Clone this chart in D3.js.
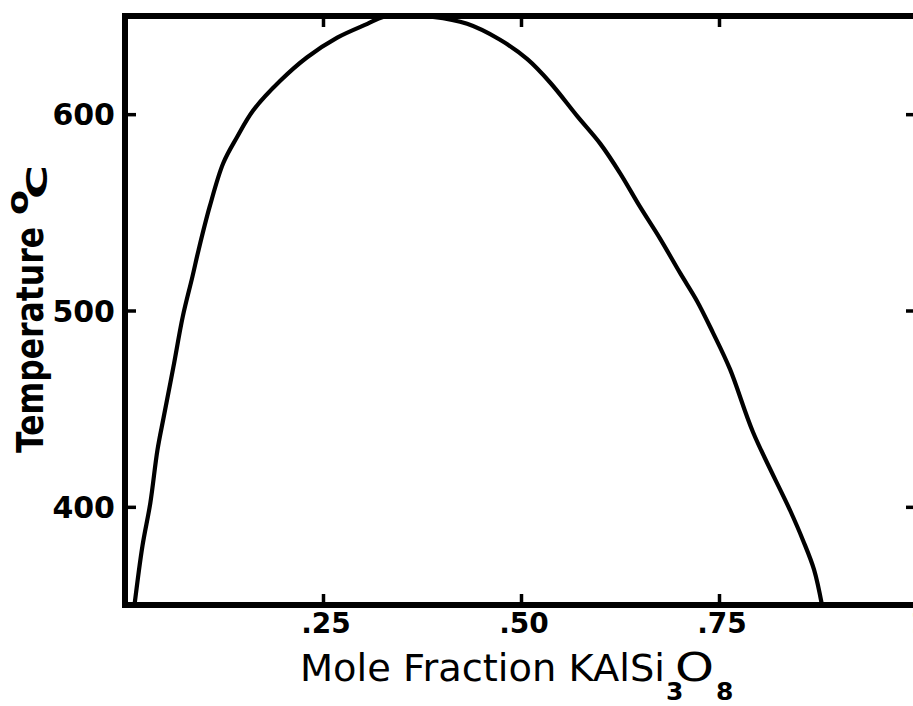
<!DOCTYPE html>
<html>
<head>
<meta charset="utf-8">
<script src="https://cdn.jsdelivr.net/npm/d3@7"></script>
<style>
  html, body { margin: 0; padding: 0; background: #fff; overflow: hidden; }
  svg { display: block; }
  text { fill: #000; }
</style>
</head>
<body>
<svg id="chart" width="913" height="706"></svg>
<script>
// Solvus curve of the alkali feldspar system: temperature vs. mole fraction KAlSi3O8
const moleFraction = [0.012, 0.022, 0.032, 0.041, 0.049, 0.061, 0.073, 0.085, 0.093,
  0.107, 0.124, 0.141, 0.162, 0.196, 0.230, 0.268, 0.306, 0.326, 0.354,
  0.389, 0.432, 0.473, 0.508, 0.537, 0.571, 0.600, 0.625, 0.650, 0.675,
  0.701, 0.722, 0.742, 0.764, 0.793, 0.840, 0.856, 0.870, 0.880];
const temperature = [350, 380, 402, 429, 446, 471, 497, 517, 531,
  553, 575, 588, 602, 617, 629, 639, 646, 649.5, 650,
  649.5, 646, 638, 628, 616, 599, 585, 570, 553, 537,
  519, 505, 489, 470, 438, 398, 383, 368, 350];

const xTicks = [0.25, 0.5, 0.75, 1];
const xTickLabels = [".25", ".50", ".75", "1"];
const yTicks = [400, 500, 600];
const yTickLabels = ["400", "500", "600"];
const xDomain = [0, 1];
const yDomain = [350, 650];

const svg = d3.select("#chart");
const x = d3.scaleLinear().domain(xDomain).range([125, 917]);
const y = d3.scaleLinear().domain(yDomain).range([605, 16]);

const sans = "'DejaVu Sans', 'Liberation Sans', sans-serif";
const tickLen = 11;

// Inward ticks on all four sides
const frame = svg.append("g");
frame.append("g").attr("transform", `translate(0,${y(yDomain[0])})`)
  .call(d3.axisBottom(x).tickValues(xTicks).tickSizeInner(-tickLen).tickSizeOuter(0).tickFormat(""));
frame.append("g").attr("transform", `translate(0,${y(yDomain[1])})`)
  .call(d3.axisTop(x).tickValues(xTicks).tickSizeInner(-tickLen).tickSizeOuter(0).tickFormat(""));
frame.append("g").attr("transform", `translate(${x(xDomain[0])},0)`)
  .call(d3.axisLeft(y).tickValues(yTicks).tickSizeInner(-tickLen).tickSizeOuter(0).tickFormat(""));
frame.append("g").attr("transform", `translate(${x(xDomain[1])},0)`)
  .call(d3.axisRight(y).tickValues(yTicks).tickSizeInner(-tickLen).tickSizeOuter(0).tickFormat(""));
frame.selectAll(".domain").remove();
frame.selectAll(".tick line").attr("stroke", "#000").attr("stroke-width", 3.5);

// Plot frame
svg.append("rect")
  .attr("x", x(xDomain[0])).attr("y", y(yDomain[1]))
  .attr("width", x(xDomain[1]) - x(xDomain[0]))
  .attr("height", y(yDomain[0]) - y(yDomain[1]))
  .attr("fill", "none").attr("stroke", "#000").attr("stroke-width", 6);

// Tick labels
svg.append("g").selectAll("text").data(yTicks).join("text")
  .attr("x", 115).attr("y", d => y(d) + 11)
  .attr("text-anchor", "end")
  .style("font-family", sans).style("font-weight", "bold").style("font-size", "30px")
  .text((d, i) => yTickLabels[i]);

svg.append("g").selectAll("text").data(xTicks).join("text")
  .attr("x", d => x(d) + 3).attr("y", 633)
  .attr("text-anchor", "middle")
  .style("font-family", sans).style("font-weight", "bold").style("font-size", "28px")
  .text((d, i) => xTickLabels[i]);

// Solvus curve
const line = d3.line()
  .x((d, i) => x(moleFraction[i]))
  .y((d, i) => y(temperature[i]))
  .curve(d3.curveCatmullRom.alpha(0.5));
svg.append("path")
  .datum(moleFraction)
  .attr("d", line)
  .attr("fill", "none").attr("stroke", "#000").attr("stroke-width", 4.2)
  .attr("stroke-linejoin", "round").attr("stroke-linecap", "round");

// X axis title: Mole Fraction KAlSi3O8
const xt = svg.append("g")
  .style("font-family", sans);
xt.append("text").attr("x", 300).attr("y", 681)
  .attr("textLength", 365).attr("lengthAdjust", "spacingAndGlyphs")
  .style("font-size", "37px")
  .text("Mole Fraction KAlSi");
xt.append("text").attr("x", 666).attr("y", 700)
  .style("font-size", "25px").style("font-weight", "bold")
  .text("3");
xt.append("text").attr("x", 675).attr("y", 681)
  .attr("textLength", 39).attr("lengthAdjust", "spacingAndGlyphs")
  .style("font-size", "39px")
  .text("O");
xt.append("text").attr("x", 716).attr("y", 700)
  .style("font-size", "25px").style("font-weight", "bold")
  .text("8");

// Y axis title: Temperature °C (rotated)
const yt = svg.append("g")
  .attr("transform", "translate(43,453) rotate(-90)")
  .style("font-family", sans).style("font-weight", "bold");
yt.append("text").attr("x", 0).attr("y", 0)
  .attr("textLength", 226).attr("lengthAdjust", "spacingAndGlyphs")
  .style("font-size", "37px")
  .text("Temperature");
yt.append("text").attr("x", 238).attr("y", -15)
  .attr("textLength", 25).attr("lengthAdjust", "spacingAndGlyphs")
  .style("font-size", "30px")
  .text("o");
yt.append("text").attr("x", 254).attr("y", 4)
  .attr("textLength", 34).attr("lengthAdjust", "spacingAndGlyphs")
  .style("font-size", "29px")
  .text("C");
</script>
</body>
</html>
